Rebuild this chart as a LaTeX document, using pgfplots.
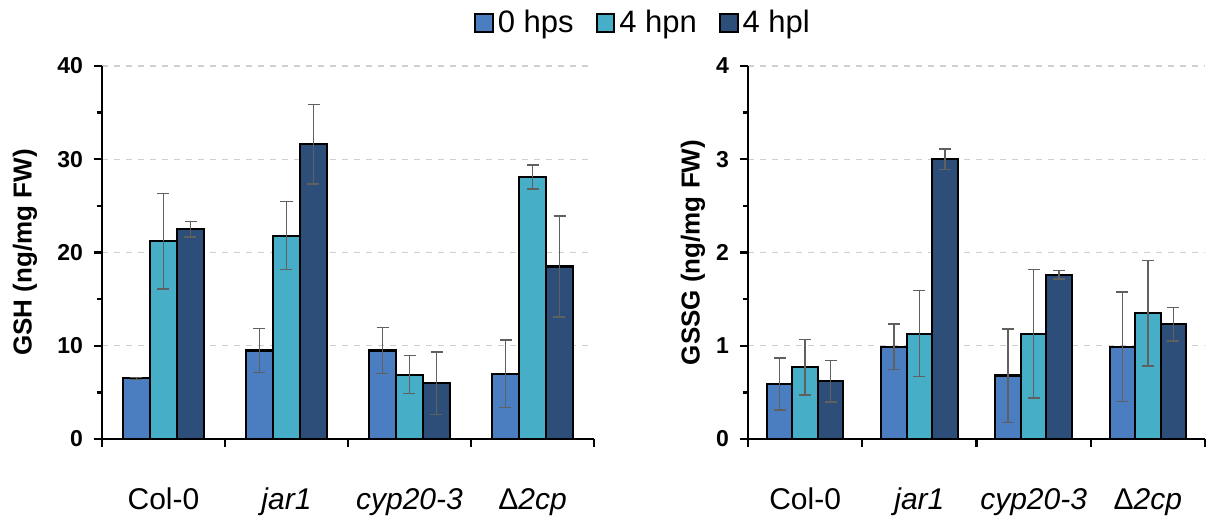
\documentclass[border=0pt]{standalone}
\usepackage{pgfplots}
\pgfplotsset{compat=1.18}
\usepackage{fontspec}
\setmainfont{Liberation Sans}
\definecolor{cA}{HTML}{4A7EC0}
\definecolor{cB}{HTML}{46AEC7}
\definecolor{cC}{HTML}{2D4E78}
\definecolor{errc}{HTML}{606060}
\definecolor{gridc}{HTML}{D0D0D0}
\pgfplotsset{
  mybars/.style={
    scale only axis,
    height=186.5pt,
    ybar,
    ymin=0,
    xmin=-0.5, xmax=3.5,
    axis x line=bottom, axis y line=left,
    axis line style={-, line width=1.4pt},
    tick align=outside,
    major tick length=4pt,
    minor tick length=2.5pt,
    tick style={black, line width=1.2pt},
    minor y tick num=1,
    ymajorgrids,
    major grid style={gridc, dashed, line width=0.6pt},
    /pgf/number format/assume math mode=true,
    yticklabel style={font=\fontsize{11.5}{13}\selectfont\bfseries, xshift=-2pt},
    ylabel style={font=\fontsize{13}{15}\selectfont\bfseries, anchor=center},
    xtick={-0.5,0.5,1.5,2.5,3.5},
    xticklabels={},
    extra x ticks={0,1,2,3},
    extra x tick labels={Col-0,\textit{jar1},\textit{cyp20-3},{Δ\textit{2cp}}},
    extra x tick style={major tick length=0pt, grid=none,
      tick label style={font=\fontsize{15}{17}\selectfont, yshift=-21pt}},
    error bars/y dir=both, error bars/y explicit,
    error bars/error bar style={errc, line width=0.7pt},
    error bars/error mark options={rotate=90, errc, mark size=3pt, line width=0.7pt},
  },
  every axis plot/.append style={draw=black, line width=1.1pt},
}
\begin{document}
\begin{tikzpicture}
\begin{axis}[mybars,
  width=246pt,
  ymax=40, ytick={0,10,20,30,40},
  bar width=13.5pt,
  ylabel={GSH (ng/mg FW)},
  ylabel style={at={(axis description cs:-0.1565,0.5)}},
  legend columns=3,
  area legend,
  legend style={draw=none, at={(1.1016,1.115)}, anchor=center,
    font=\fontsize{15.5}{17}\selectfont,
    /tikz/every even column/.append style={column sep=9pt}},
  legend image code/.code={\draw[#1, line width=1pt] (0cm,-0.155cm) rectangle (0.31cm,0.155cm);},
]
\addplot[fill=cA, bar shift=-13.5pt] coordinates {(0,6.5) +- (0,0.1) (1,9.5) +- (0,2.35) (2,9.5) +- (0,2.45) (3,7.0) +- (0,3.6)};
\addplot[fill=cB, bar shift=0pt] coordinates {(0,21.2) +- (0,5.1) (1,21.8) +- (0,3.65) (2,6.9) +- (0,2.05) (3,28.1) +- (0,1.3)};
\addplot[fill=cC, bar shift=13.5pt] coordinates {(0,22.5) +- (0,0.85) (1,31.6) +- (0,4.25) (2,6.0) +- (0,3.35) (3,18.5) +- (0,5.4)};
\legend{0 hps,4 hpn,4 hpl}
\end{axis}
\begin{axis}[mybars,
  at={(323pt,0pt)},
  width=228.5pt,
  ymax=4, ytick={0,1,2,3,4},
  bar width=12.75pt,
  ylabel={GSSG (ng/mg FW)},
  ylabel style={at={(axis description cs:-0.1204,0.5)}},
]
\addplot[fill=cA, bar shift=-12.75pt] coordinates {(0,0.59) +- (0,0.28) (1,0.99) +- (0,0.245) (2,0.68) +- (0,0.5) (3,0.99) +- (0,0.585)};
\addplot[fill=cB, bar shift=0pt] coordinates {(0,0.77) +- (0,0.30) (1,1.13) +- (0,0.46) (2,1.13) +- (0,0.69) (3,1.35) +- (0,0.565)};
\addplot[fill=cC, bar shift=12.75pt] coordinates {(0,0.62) +- (0,0.225) (1,3.0) +- (0,0.11) (2,1.76) +- (0,0.045) (3,1.23) +- (0,0.18)};
\end{axis}
\pgfresetboundingbox
\path[use as bounding box] (-51pt,-44pt) rectangle (553pt,219.5pt);
\end{tikzpicture}
\end{document}
